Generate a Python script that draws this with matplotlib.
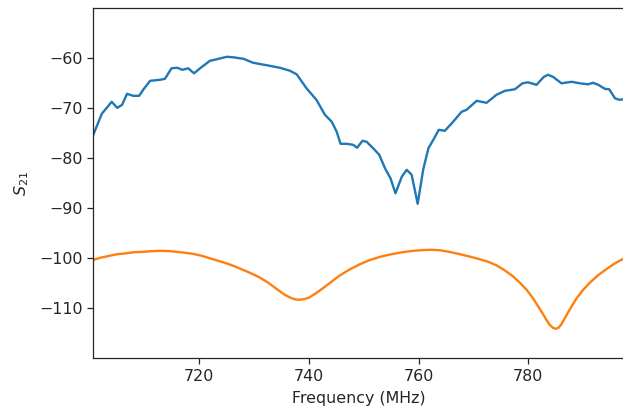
import matplotlib
matplotlib.use("Agg")
import matplotlib.pyplot as plt

# Measured S21 (blue)
freq_meas = [700.75, 702.3, 704.1, 705.1, 706.0, 706.9, 708.0, 709.1, 709.9, 711.1,
             712.9, 713.8, 715.0, 716.05, 717.0, 718.05, 719.1, 720.2, 722.0, 723.2,
             725.05, 726.25, 728.1, 729.9, 732.9, 734.75, 736.6, 737.8, 739.6, 741.4,
             742.95, 744.2, 745.1, 745.8, 746.9, 748.1, 748.8, 749.8, 750.55, 751.75,
             752.85, 753.9, 754.9, 755.8, 756.95, 757.85, 758.75, 759.85, 760.85, 761.8,
             762.7, 763.7, 764.8, 766.3, 767.85, 768.75, 770.6, 772.4, 774.2, 775.75,
             777.55, 778.95, 779.95, 781.5, 782.85, 783.6, 784.5, 786.05, 787.9, 789.4,
             790.9, 791.8, 792.75, 793.95, 794.75, 795.8, 796.55, 797.3]
s21_meas = [-75.3, -71.1, -68.7, -69.9, -69.3, -67.1, -67.5, -67.5, -66.2, -64.5,
            -64.3, -64.1, -62.0, -61.9, -62.3, -62.0, -63.0, -62.0, -60.5, -60.2,
            -59.7, -59.8, -60.1, -60.9, -61.5, -61.9, -62.5, -63.2, -66.0, -68.3,
            -71.3, -72.7, -74.7, -77.1, -77.1, -77.3, -77.9, -76.5, -76.7, -78.0,
            -79.3, -82.0, -84.0, -87.0, -83.7, -82.3, -83.3, -89.1, -82.3, -78.0,
            -76.3, -74.3, -74.5, -72.7, -70.7, -70.3, -68.5, -68.9, -67.3, -66.5,
            -66.2, -65.0, -64.8, -65.3, -63.7, -63.3, -63.7, -65.0, -64.7, -65.0,
            -65.2, -64.9, -65.3, -66.1, -66.2, -68.0, -68.3, -68.2]

# Simulated S21 (orange)
freq_sim = [700.75, 702, 703.7, 705, 706.75, 708, 709.8, 711, 712.8, 714.5,
            715.9, 717.5, 718.9, 720.5, 722, 723.5, 725, 726.5, 728, 729.5,
            731, 732.5, 734, 735.5, 736.7, 737.5, 738.2, 739, 740, 741.3,
            742.7, 744, 745.7, 747.5, 749.3, 751, 753, 755, 757, 759,
            761, 762.5, 764, 766, 768, 769.5, 771.2, 772.7, 774.2, 775.7,
            777.2, 778.5, 779.7, 780.8, 781.8, 782.6, 783.3, 783.9, 784.5, 785.0,
            785.5, 785.9, 786.5, 787.0, 787.9, 788.8, 790, 791.2, 792.7, 794.3,
            795.8, 797.3]
s21_sim = [-100.3, -99.9, -99.5, -99.2, -99.0, -98.8, -98.7, -98.6, -98.5, -98.55,
           -98.7, -98.9, -99.1, -99.5, -100.0, -100.5, -101.0, -101.6, -102.3, -103.0,
           -103.8, -104.8, -106.0, -107.2, -107.9, -108.2, -108.3, -108.2, -107.9, -107.0,
           -105.9, -104.8, -103.4, -102.2, -101.2, -100.4, -99.7, -99.2, -98.8, -98.5,
           -98.35, -98.3, -98.4, -98.8, -99.3, -99.7, -100.2, -100.7, -101.4, -102.4,
           -103.6, -104.9, -106.3, -107.9, -109.6, -111.0, -112.3, -113.3, -113.9, -114.1,
           -113.9, -113.4, -112.3, -111.3, -109.6, -108.0, -106.3, -104.9, -103.4, -102.1,
           -101.0, -100.1]

x_ticks = [720, 740, 760, 780]
y_ticks = [-60, -70, -80, -90, -100, -110]

W, H = 623, 408
fig = plt.figure(figsize=(W / 100, H / 100), dpi=100)
left, top, bottom = 93.3, 8.3, 358.3
right = 623.5
ax = fig.add_axes([left / W, (H - bottom) / H, (right - left) / W, (bottom - top) / H])

lw = 1.7
ax.plot(freq_meas, s21_meas, color="#1f77b4", lw=lw, solid_joinstyle="round")
ax.plot(freq_sim, s21_sim, color="#ff7f0e", lw=lw, solid_joinstyle="round")

ax.set_xlim(700.75, 797.35)
ax.set_ylim(-120, -50)
ax.set_xticks(x_ticks)
ax.set_yticks(y_ticks)
fs = 11.4
ax.tick_params(labelsize=fs, length=4, width=0.9, colors="#262626", labelcolor="#262626")
for s in ax.spines.values():
    s.set_linewidth(0.9)
    s.set_color("#262626")
ax.set_xlabel("Frequency (MHz)", fontsize=fs, color="#262626", labelpad=5)
ax.set_ylabel("$S_{21}$", fontsize=fs, color="#262626", labelpad=6)

fig.savefig("out.png", dpi=100)
